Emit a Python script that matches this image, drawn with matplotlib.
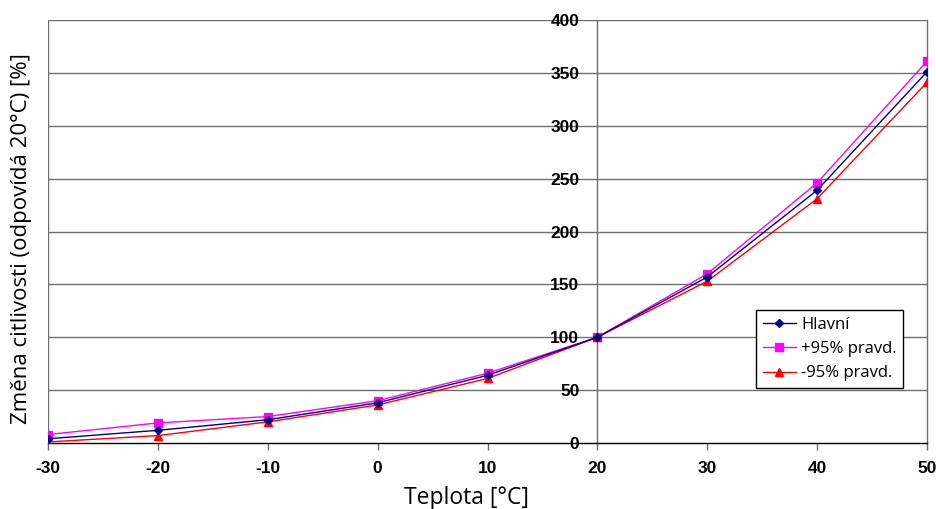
import matplotlib
matplotlib.use("Agg")
import matplotlib.pyplot as plt

# Temperature points and relative sensitivity change (100 % at 20 °C)
teplota = [-30, -20, -10, 0, 10, 20, 30, 40, 50]
hlavni = [4, 12, 22, 38, 64, 100, 157, 239, 351]
plus95 = [8, 19, 25, 40, 66, 100, 160, 246, 361]
minus95 = [1, 7, 20, 36, 61, 100, 153, 231, 341]

x_ticks = [-30, -20, -10, 0, 10, 20, 30, 40, 50]
y_ticks = [0, 50, 100, 150, 200, 250, 300, 350, 400]

fig = plt.figure(figsize=(9.36, 5.09), dpi=100)
ax = fig.add_axes([48 / 936, 66 / 509, 879 / 936, 423 / 509])

grid_col = "#6e6e6e"
for yv in y_ticks[1:]:
    ax.axhline(yv, color=grid_col, lw=1.0, zorder=1)
ax.axvline(-30, color=grid_col, lw=1.0, zorder=1)

ax.plot(teplota, hlavni, color="#000080", lw=1.0, marker="D", ms=4.0,
        label="Hlavní", zorder=4)
ax.plot(teplota, plus95, color="#ff00ff", lw=1.0, marker="s", ms=5.5,
        label="+95% pravd.", zorder=3)
ax.plot(teplota, minus95, color="#ff0000", lw=1.0, marker="^", ms=5.5,
        label="-95% pravd.", zorder=3)

ax.set_xlim(-30, 50)
ax.set_ylim(0, 400)
ax.set_xticks(x_ticks)
ax.set_yticks(y_ticks)

ax.spines["left"].set_position(("data", 20))
ax.spines["left"].set_color(grid_col)
ax.spines["right"].set_color(grid_col)
ax.spines["top"].set_visible(False)
ax.spines["bottom"].set_color("black")
for s in ax.spines.values():
    s.set_linewidth(1.0)

tick_font = dict(family="Liberation Sans", weight="bold", size=12.5)
ax.set_xticklabels([str(v) for v in x_ticks], **tick_font)
ax.set_yticklabels([str(v) for v in y_ticks], **tick_font)
ax.tick_params(axis="x", direction="out", length=5, width=1, color=grid_col, pad=8)
ax.tick_params(axis="y", length=0, pad=13)
ax.patch.set_visible(False)

fig.text(22 / 936, 0.5 + 16 / 509, "Změna citlivosti (odpovídá 20°C) [%]",
         rotation=90, ha="center", va="center", family="Open Sans", size=16)
fig.text(467 / 936, 11 / 509, "Teplota [°C]", ha="center", va="center",
         family="Open Sans", size=16.5)

leg = ax.legend(loc="upper left", bbox_to_anchor=((756 - 48) / 879, (509 - 66 - 310) / 423),
                frameon=True, fancybox=False, edgecolor="black", framealpha=1,
                prop=dict(family="Open Sans", size=12), handlelength=2.0,
                borderpad=0.4, labelspacing=0.5, handletextpad=0.3, borderaxespad=0)
leg.get_frame().set_linewidth(1.0)

fig.savefig("out.png", dpi=100)
